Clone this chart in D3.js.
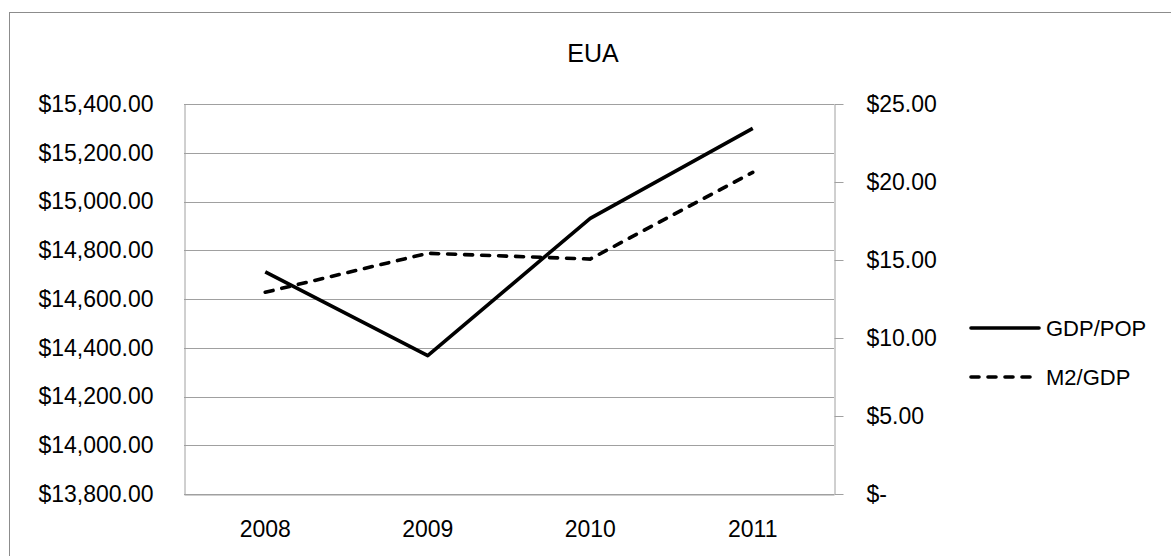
<!DOCTYPE html>
<html>
<head>
<meta charset="utf-8">
<script src="https://cdn.jsdelivr.net/npm/d3@7"></script>
<style>
  html, body { margin: 0; padding: 0; background: #fff; }
  svg { display: block; font-family: "Liberation Sans", Arial, sans-serif; }
</style>
</head>
<body>
<svg id="chart" width="1171" height="556"></svg>
<script>
// Chart data
const years = ["2008", "2009", "2010", "2011"];
const gdpPerPop = [14711, 14368, 14931, 15300];
const m2PerGdp = [12.93, 15.43, 15.06, 20.62];
const leftTicks = [13800, 14000, 14200, 14400, 14600, 14800, 15000, 15200, 15400];
const rightTicks = [0, 5, 10, 15, 20, 25];
const seriesNames = ["GDP/POP", "M2/GDP"];

const svg = d3.select("#chart");
const W = 1171, H = 556;
const plot = { left: 184, right: 834, top: 104, bottom: 494 };

// Outer chart frame
svg.append("rect")
  .attr("x", 9.5).attr("y", 12.5)
  .attr("width", W + 20).attr("height", H + 20)
  .attr("fill", "#fff").attr("stroke", "#8c8c8c").attr("stroke-width", 1);

// Title
svg.append("text")
  .attr("x", 593).attr("y", 62)
  .attr("text-anchor", "middle")
  .attr("font-size", 25).attr("fill", "#000")
  .text("EUA");

const x = d3.scaleBand().domain(years).range([plot.left, plot.right]).padding(0);
const yL = d3.scaleLinear().domain([13800, 15400]).range([plot.bottom, plot.top]);
const yR = d3.scaleLinear().domain([0, 25]).range([plot.bottom, plot.top]);

const fmtLeft = d3.format("$,.2f");
const fmtRight = v => v === 0 ? "$-" : d3.format("$,.2f")(v);

// Horizontal gridlines
svg.append("g").selectAll("line").data(leftTicks).join("line")
  .attr("x1", plot.left).attr("x2", plot.right)
  .attr("y1", d => Math.round(yL(d)) + 0.5).attr("y2", d => Math.round(yL(d)) + 0.5)
  .attr("stroke", "#a0a0a0").attr("stroke-width", 1);

// Left axis
const gL = svg.append("g").attr("transform", `translate(${plot.left + 0.5},0)`)
  .call(d3.axisLeft(yL).tickValues(leftTicks).tickFormat(fmtLeft).tickSize(0).tickPadding(31));
gL.select(".domain").attr("stroke", "#a0a0a0");
gL.selectAll("text").attr("font-size", 23).attr("fill", "#000")
  .attr("font-family", "Liberation Sans, Arial, sans-serif");

// Right axis
const gR = svg.append("g").attr("transform", `translate(${plot.right + 0.5},0)`)
  .call(d3.axisRight(yR).tickValues(rightTicks).tickFormat(fmtRight).tickSize(9).tickPadding(23).tickSizeOuter(0));
gR.select(".domain").attr("stroke", "#a0a0a0");
gR.selectAll(".tick line").attr("stroke", "#a0a0a0");
gR.selectAll("text").attr("font-size", 23).attr("fill", "#000")
  .attr("font-family", "Liberation Sans, Arial, sans-serif");

// Bottom axis
const gB = svg.append("g").attr("transform", `translate(0,${plot.bottom + 0.5})`)
  .call(d3.axisBottom(x).tickSize(0).tickPadding(26));
gB.select(".domain").attr("stroke", "#a0a0a0");
gB.selectAll("text").attr("font-size", 23).attr("fill", "#000")
  .attr("font-family", "Liberation Sans, Arial, sans-serif");

const cx = d => x(d) + x.bandwidth() / 2;

// GDP per capita (left scale)
svg.append("path")
  .datum(years.map((y, i) => [cx(y), yL(gdpPerPop[i])]))
  .attr("d", d3.line())
  .attr("fill", "none").attr("stroke", "#000")
  .attr("stroke-width", 3.6).attr("stroke-linejoin", "round");

// M2 over GDP (right scale)
svg.append("path")
  .datum(years.map((y, i) => [cx(y), yR(m2PerGdp[i])]))
  .attr("d", d3.line())
  .attr("fill", "none").attr("stroke", "#000")
  .attr("stroke-width", 3.6).attr("stroke-linecap", "round")
  .attr("stroke-dasharray", "8,9");

// Legend
const legend = svg.append("g");
const legY = [328, 377];
seriesNames.forEach((name, i) => {
  legend.append("line")
    .attr("x1", 971).attr("x2", 1039)
    .attr("y1", legY[i]).attr("y2", legY[i])
    .attr("stroke", "#000").attr("stroke-width", 3.6)
    .attr("stroke-linecap", "round")
    .attr("stroke-dasharray", i === 0 ? null : "8,9");
  legend.append("text")
    .attr("x", 1046).attr("y", legY[i])
    .attr("dy", "0.35em")
    .attr("font-size", 22).attr("fill", "#000")
    .text(name);
});
</script>
</body>
</html>
